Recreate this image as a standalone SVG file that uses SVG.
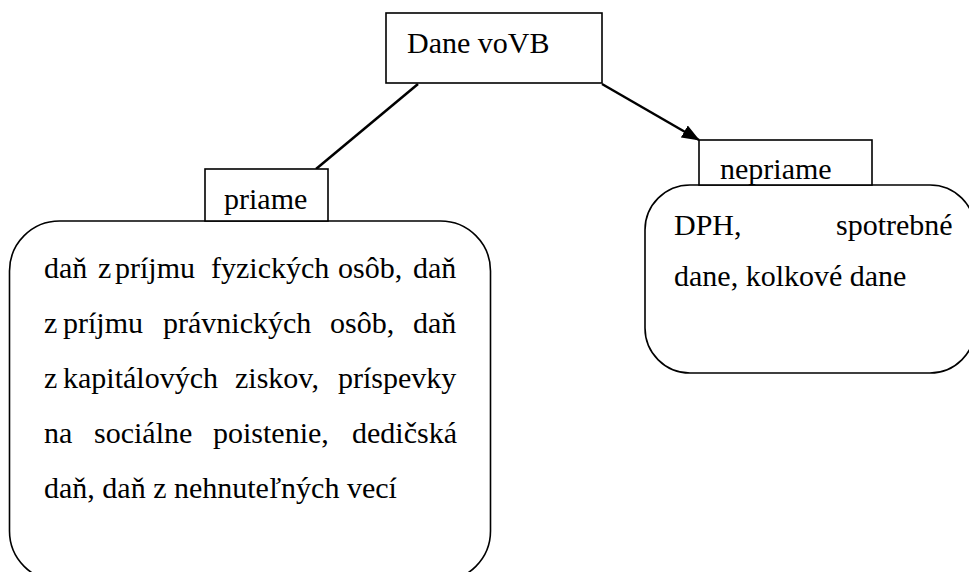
<svg xmlns="http://www.w3.org/2000/svg" width="969" height="572" viewBox="0 0 969 572">
<style>
.box{fill:#fff;stroke:#000;stroke-width:1.6}
text{font-family:'Liberation Serif','Times New Roman',serif;font-size:30px;fill:#000}
.con{stroke:#000;stroke-width:2.5;fill:none}
</style>
<defs>
<marker id="arr" markerWidth="18" markerHeight="14" refX="17" refY="7" orient="auto" markerUnits="userSpaceOnUse" viewBox="0 0 18 14">
<path d="M0,0 L18,7 L0,14 Z" fill="#000"/>
</marker>
</defs>
<rect width="969" height="572" fill="#fff"/>
<g id="connectors">
<line class="con" x1="418" y1="84" x2="316" y2="169"/>
<line class="con" x1="602" y1="84" x2="699" y2="140" marker-end="url(#arr)"/>
</g>
<g id="dane">
<rect class="box" x="386" y="13" width="216" height="70"/>
<text x="407" y="53">Dane voVB</text>
</g>
<g id="priame-body">
<rect class="box" x="9.5" y="221" width="481" height="360" rx="50" ry="50"/>
<text y="278"><tspan x="44">daň</tspan><tspan x="98">z</tspan><tspan x="115">príjmu</tspan><tspan x="211">fyzických</tspan><tspan x="338">osôb,</tspan><tspan x="413">daň</tspan></text>
<text y="333"><tspan x="44">z</tspan><tspan x="63">príjmu</tspan><tspan x="163">právnických</tspan><tspan x="330">osôb,</tspan><tspan x="413">daň</tspan></text>
<text y="388"><tspan x="44">z</tspan><tspan x="63">kapitálových</tspan><tspan x="235">ziskov,</tspan><tspan x="338">príspevky</tspan></text>
<text y="443"><tspan x="44">na</tspan><tspan x="94">sociálne</tspan><tspan x="213">poistenie,</tspan><tspan x="352">dedičská</tspan></text>
<text x="44" y="498">daň, daň z nehnuteľných vecí</text>
</g>
<g id="priame">
<rect class="box" x="205" y="169" width="123" height="52"/>
<text x="224" y="209">priame</text>
</g>
<g id="nepriame-body">
<rect class="box" x="645" y="185" width="330" height="188" rx="45" ry="45"/>
<text y="235"><tspan x="674">DPH,</tspan><tspan x="836">spotrebné</tspan></text>
<text x="674" y="286">dane, kolkové dane</text>
</g>
<g id="nepriame">
<rect class="box" x="699" y="140" width="173" height="45"/>
<text x="720" y="179">nepriame</text>
</g>
</svg>
